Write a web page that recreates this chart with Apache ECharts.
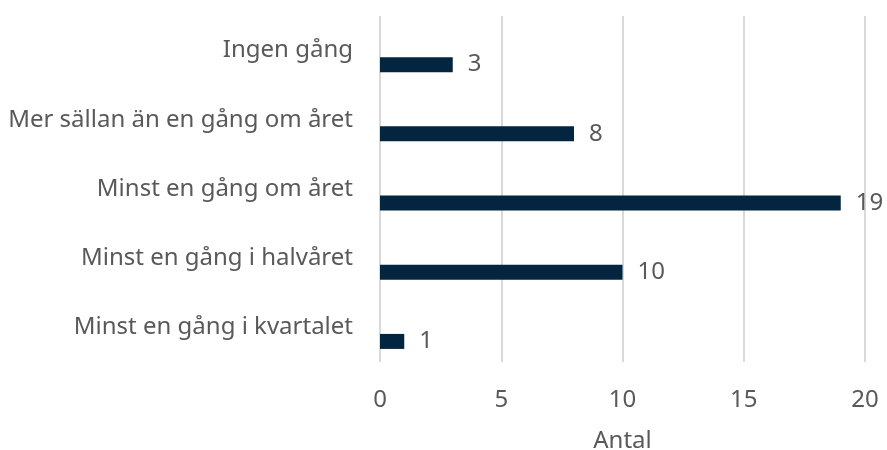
<!DOCTYPE html>
<html>
<head>
<meta charset="utf-8">
<script src="https://cdn.jsdelivr.net/npm/echarts@6/dist/echarts.min.js"></script>
<style>html,body{margin:0;padding:0;background:#fff}#c{width:887px;height:450px}</style>
</head>
<body>
<div id="c"></div>
<script>
const categories = ["Minst en gång i kvartalet", "Minst en gång i halvåret", "Minst en gång om året", "Mer sällan än en gång om året", "Ingen gång"];
const values = [1, 10, 19, 8, 3];
const xTicks = [0, 5, 10, 15, 20];
const axisName = "Antal";

const font = "Noto Sans";
const txt = "#595959";
const chart = echarts.init(document.getElementById('c'), null, {renderer: 'canvas'});
chart.setOption({
  animation: false,
  textStyle: {fontFamily: font},
  grid: {left: 380, right: 22, top: 16, bottom: 88, containLabel: false, outerBoundsMode: 'none'},
  xAxis: {
    type: 'value', min: xTicks[0], max: xTicks[xTicks.length - 1], interval: 5,
    name: axisName, nameLocation: 'middle', nameGap: 67,
    nameTextStyle: {fontFamily: font, fontSize: 24, color: txt},
    axisLine: {show: false}, axisTick: {show: false},
    axisLabel: {fontFamily: font, fontSize: 24, color: txt, margin: 26},
    splitLine: {show: true, lineStyle: {color: '#d9d9d9', width: 2}}
  },
  yAxis: {
    type: 'category', data: categories,
    axisLine: {show: false}, axisTick: {show: false},
    axisLabel: {fontFamily: font, fontSize: 24, color: txt, margin: 27},
    splitLine: {show: false}
  },
  series: [
    {type: 'bar', data: values.map(() => null), barWidth: 15, barGap: '87%', silent: true, itemStyle: {color: 'transparent'}},
    {type: 'bar', data: values, barWidth: 15, barGap: '87%',
      itemStyle: {color: '#03253f'},
      label: {show: true, position: 'right', distance: 15, fontFamily: font, fontSize: 24, color: txt}}
  ]
});
</script>
</body>
</html>
